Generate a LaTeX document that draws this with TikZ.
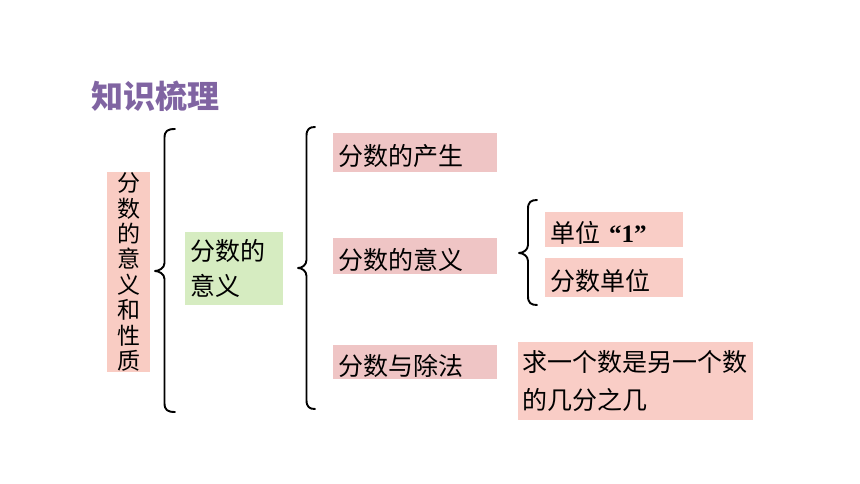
\documentclass[tikz,border=0pt]{standalone}
\usepackage{fontspec}
\setmainfont{Liberation Serif}
\newfontfamily\cjk{Noto Sans CJK SC}
\definecolor{titlepurple}{HTML}{8064A2}
\definecolor{vfill}{HTML}{F9CCC3}
\definecolor{gfill}{HTML}{D6ECC1}
\definecolor{mfill}{HTML}{EFC5C5}
\definecolor{rfill}{HTML}{F9CDC6}
\tikzset{
  pbox/.style={fill=#1, inner xsep=5pt, inner ysep=0pt, align=left,
    font=\cjk\fontsize{25}{25}\selectfont, text height=26pt, text depth=0pt},
  bracestyle/.style={draw=black, line width=1.9pt, line cap=round, line join=round}
}
\newcommand{\curlybr}[6]{% xend, xstem, xtip, ytop, ytip, ybottom
  \draw[bracestyle] (#1,#4) .. controls (#2+3,#4) and (#2,#4+2) .. (#2,#4+9)
    -- (#2,#5-8) .. controls (#2,#5-3) and (#3+4,#5) .. (#3,#5)
    .. controls (#3+4,#5) and (#2,#5+3) .. (#2,#5+8)
    -- (#2,#6-9) .. controls (#2,#6-2) and (#2+3,#6) .. (#1,#6);
}
\begin{document}
\begin{tikzpicture}[x=1pt,y=-1pt]
\useasboundingbox (0,0) rectangle (860,484);
% title
\node[anchor=west, inner sep=0pt, text=titlepurple,
  font=\cjk\bfseries\fontsize{32}{32}\selectfont] (title) at (91,96) {知识梳理};
% vertical box
\node[fill=vfill, minimum width=43pt, minimum height=200pt, inner sep=0pt,
  align=center, font=\cjk\fontsize{23}{25.4}\selectfont] (prop) at (128.5,272)
  {分\\数\\的\\意\\义\\和\\性\\质};
% green box
\node[fill=gfill, minimum width=98pt, minimum height=73pt, inner xsep=6pt, inner ysep=0pt,
  text width=86pt, align=left, font=\cjk\fontsize{25}{35}\selectfont] (mean) at (233.5,268.5)
  {分数的\\意义};
% middle boxes
\node[pbox=mfill, minimum width=164pt, minimum height=39pt, text width=154pt] (orig) at (415,152.5) {分数的产生};
\node[pbox=mfill, minimum width=164pt, minimum height=36pt, text width=154pt] (sense) at (415,256) {分数的意义};
\node[pbox=mfill, minimum width=164pt, minimum height=34pt, text width=154pt] (divi) at (415,362) {分数与除法};
% right boxes
\node[pbox=rfill, minimum width=138pt, minimum height=35pt, text width=128pt] (unitone) at (614,229.5)
  {单位\hspace{9pt}{\rmfamily\bfseries “1”}};
\node[pbox=rfill, minimum width=138pt, minimum height=39pt, text width=128pt] (unitfr) at (614,277.5) {分数单位};
\node[fill=rfill, minimum width=235pt, minimum height=78pt, inner xsep=4pt, inner ysep=0pt,
  text width=227pt, align=left, font=\cjk\fontsize{25}{38}\selectfont] (ratio) at (635.5,381)
  {求一个数是另一个数\\的几分之几};
% braces
\curlybr{175}{164.5}{155}{129}{271}{412}
\curlybr{315}{306.5}{298}{127}{268}{409}
\curlybr{537}{528}{519}{200}{253}{305}
\end{tikzpicture}
\end{document}
